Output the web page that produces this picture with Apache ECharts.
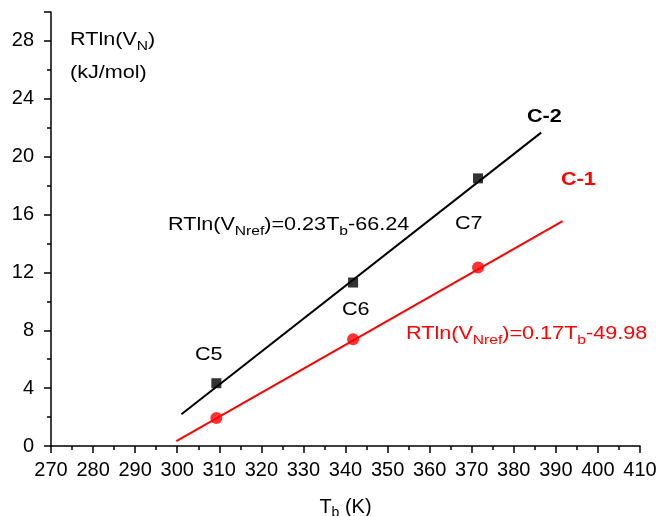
<!DOCTYPE html>
<html>
<head>
<meta charset="utf-8">
<script src="https://cdn.jsdelivr.net/npm/echarts@6/dist/echarts.min.js"></script>
<style>
  html, body { margin: 0; padding: 0; background: #fff; }
  #chart { width: 656px; height: 516px; }
</style>
</head>
<body>
<div id="chart"></div>
<script>
// measured points (Tb in K, RTln(VN) in kJ/mol)
var c2Tb = [309.3, 341.8, 371.5];
var c2Val = [4.34, 11.3, 18.5];
var c1Tb = [309.3, 341.8, 371.5];
var c1Val = [1.93, 7.38, 12.34];
var carbonLabels = ['C5', 'C6', 'C7'];

// fitted line end points
var fit2Tb = [301.0, 386.5];
var fit2Val = [2.2, 21.66];
var fit1Tb = [299.8, 391.6];
var fit1Val = [0.34, 15.54];

function pairs(xs, ys) {
    var out = [];
    for (var i = 0; i < xs.length; i++) out.push([xs[i], ys[i]]);
    return out;
}

var myChart = echarts.init(document.getElementById('chart'));
var font = 'Liberation Sans, Arial, sans-serif';

function richStyle(color, size, subSize) {
    return {
        n: { fontSize: size, fontFamily: font, color: color },
        s: { fontSize: subSize, fontFamily: font, color: color, padding: [12, 0, 0, 0] }
    };
}

// stretched text, the original labels are wider than plain Arial
function label(x, y, txt, opts) {
    opts = opts || {};
    var color = opts.color || '#000';
    var style = { text: txt, fill: color };
    if (opts.rich) style.rich = richStyle(color, 18, 13);
    else style.font = (opts.bold ? 'bold ' : '') + '18px ' + font;
    return { type: 'text', x: x, y: y, scaleX: 1.2, style: style };
}

var option = {
    animation: false,
    grid: { left: 51, right: 16, top: 12, bottom: 70, outerBoundsMode: 'none', containLabel: false },
    xAxis: {
        type: 'value',
        min: 270, max: 410, interval: 10,
        name: '{n|T}{s|b}{n| (K)}',
        nameLocation: 'middle',
        nameGap: 48,
        nameTextStyle: { rich: richStyle('#000', 20, 14) },
        axisLine: { lineStyle: { color: '#000', width: 1.5 } },
        axisTick: { length: 7, lineStyle: { color: '#000', width: 1.5 } },
        minorTick: { show: true, splitNumber: 2, length: 4, lineStyle: { color: '#000', width: 1.5 } },
        axisLabel: { color: '#000', fontSize: 20, fontFamily: font, margin: 14 },
        splitLine: { show: false }
    },
    yAxis: {
        type: 'value',
        min: 0, max: 30, interval: 4,
        axisLine: { show: true, lineStyle: { color: '#000', width: 1.5 } },
        axisTick: { show: true, length: 7, lineStyle: { color: '#000', width: 1.5 } },
        minorTick: { show: true, splitNumber: 2, length: 4, lineStyle: { color: '#000', width: 1.5 } },
        axisLabel: { color: '#000', fontSize: 20, fontFamily: font, margin: 17,
            formatter: function (v) { return v % 4 === 0 && v <= 28 ? v : ''; } },
        splitLine: { show: false }
    },
    series: [
        {
            type: 'line', data: pairs(fit2Tb, fit2Val), showSymbol: false, symbol: 'none',
            lineStyle: { color: '#000', width: 2 }, z: 2
        },
        {
            type: 'line', data: pairs(fit1Tb, fit1Val), showSymbol: false, symbol: 'none',
            lineStyle: { color: '#ff0000', width: 2 }, z: 2
        },
        {
            type: 'scatter', data: pairs(c2Tb, c2Val), symbol: 'rect', symbolSize: 10,
            itemStyle: { color: '#000' }, z: 3
        },
        {
            type: 'scatter', data: pairs(c1Tb, c1Val), symbol: 'circle', symbolSize: 12,
            itemStyle: { color: '#ff0000' }, z: 3
        }
    ],
    graphic: [
        label(70, 28, '{n|RTln(V}{s|N}{n|)}', { rich: true }),
        label(70, 64, '(kJ/mol)'),
        label(527, 108, 'C-2', { bold: true }),
        label(561, 171, 'C-1', { bold: true, color: '#ff0000' }),
        label(195, 346, carbonLabels[0]),
        label(342, 301, carbonLabels[1]),
        label(455, 215, carbonLabels[2]),
        label(168, 213, '{n|RTln(V}{s|Nref}{n|)=0.23T}{s|b}{n|-66.24}', { rich: true }),
        label(406, 322, '{n|RTln(V}{s|Nref}{n|)=0.17T}{s|b}{n|-49.98}', { rich: true, color: '#ff0000' })
    ]
};
myChart.setOption(option);
</script>
</body>
</html>
